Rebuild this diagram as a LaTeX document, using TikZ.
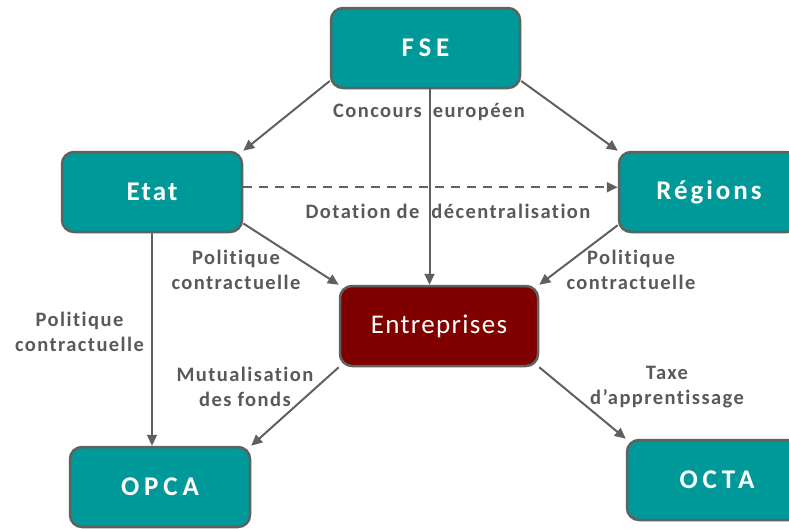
\documentclass[tikz,border=0pt]{standalone}
\usepackage{fontspec}
\setmainfont{Carlito}[Ligatures=NoCommon]
\usepackage{tikz}
\usetikzlibrary{arrows.meta}
\definecolor{teal0}{RGB}{0,153,153}
\definecolor{darkred0}{RGB}{128,0,0}
\definecolor{linegray}{RGB}{96,96,96}
\definecolor{textgray}{RGB}{89,89,89}

\begin{document}
\begin{tikzpicture}
  [x=1pt,y=-1pt,
   box/.style={draw=linegray,line width=2.5pt,rounded corners=12pt,fill=teal0,text=white,
     minimum width=180pt,minimum height=80pt,inner sep=0pt},
   wide/.style={font={\bfseries\fontsize{27}{32}\selectfont\addfontfeature{LetterSpace=18}}},
   lbl/.style={text=textgray,align=center,inner sep=0pt,
     font={\bfseries\fontsize{20.5}{24.5}\selectfont\addfontfeature{LetterSpace=7}}},
   arr/.style={draw=linegray,line width=2pt,-{Triangle[length=11pt,width=10pt]}}]

  \useasboundingbox (0,0) rectangle (789,528);
  \clip (0,0) rectangle (789,528);

  \node[box,wide,minimum width=189pt] (fse) at (425.5,48) {FSE};
  \node[box,font={\bfseries\fontsize{27}{32}\selectfont\addfontfeature{LetterSpace=8}}] (etat) at (152,192) {Etat};
  \node[box,font={\bfseries\fontsize{27}{32}\selectfont\addfontfeature{LetterSpace=11}}] (regions) at (709,192) {Régions};
  \node[box,fill=darkred0,minimum width=198pt,font={\fontsize{27}{32}\selectfont\addfontfeature{LetterSpace=5}}] (ent) at (439,326) {Entreprises};
  \node[box,wide] (opca) at (160,487) {OPCA};
  \node[box,wide] (octa) at (717,480) {OCTA};

  \node[lbl] (l1) at (429,112) {Concours\hspace{5pt} européen};
  \node[lbl] (l2) at (448,211) {Dotation de\hspace{12pt}décentralisation};
  \node[lbl] (l3) at (236,270) {Politique\\contractuelle};
  \node[lbl] (l4) at (631,270) {Politique\\contractuelle};
  \node[lbl] (l5) at (79.5,332) {Politique\\contractuelle};
  \node[lbl] (l6) at (245,387) {Mutualisation\\des fonds};
  \node[lbl] (l7) at (667,387) {Taxe\\d’apprentissage};

  \foreach \from/\to in {fse.199/etat.north east,fse.-19/regions.north west,
      etat.-19/ent.north west,regions.200/ent.north east,
      ent.south west/opca.north east,ent.south east/octa.north west}
    \draw[arr] (\from) -- (\to);
  \draw[arr] ([xshift=4pt]fse.south) -- ([xshift=4pt]fse.south |- ent.north);
  \draw[arr] (etat.south) -- (etat.south |- opca.north);
  \draw[arr,dashed,dash pattern=on 9pt off 7pt] (etat.3) -- (regions.177);
\end{tikzpicture}
\end{document}
